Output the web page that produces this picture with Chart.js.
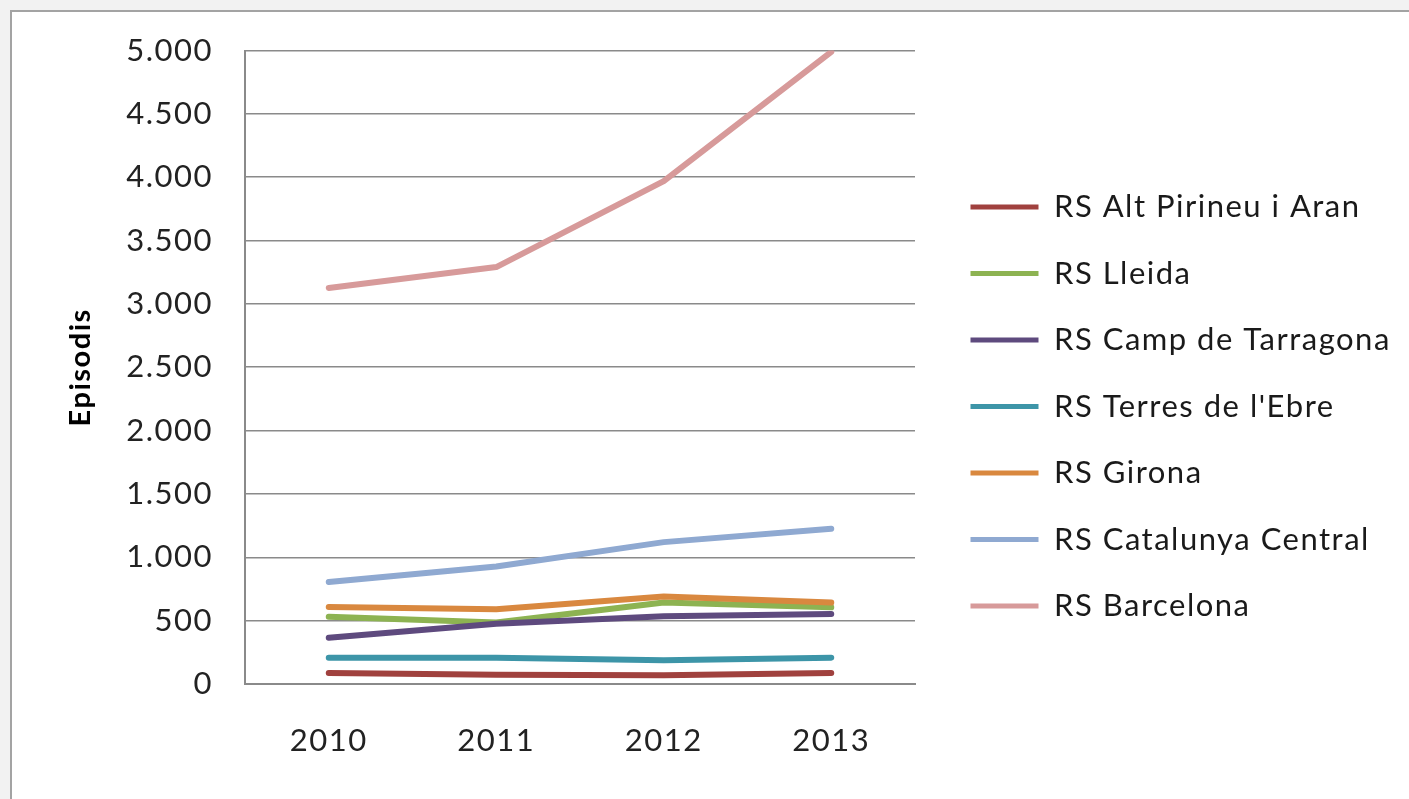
<!DOCTYPE html>
<html>
<head>
<meta charset="utf-8">
<script src="https://cdn.jsdelivr.net/npm/chart.js@4/dist/chart.umd.min.js"></script>
<style>
  html, body { margin: 0; padding: 0; background: #f2f2f2; width: 1409px; height: 799px; overflow: hidden; }
  #frame { position: absolute; left: 10px; top: 10px; width: 1420px; height: 800px; background: #ffffff;
           border-left: 2px solid #a3a3a3; border-top: 2px solid #a3a3a3; }
  #c { position: absolute; left: 0; top: 0; }
</style>
</head>
<body>
<div id="frame"></div>
<canvas id="c" width="1409" height="799"></canvas>
<script>
// ---- data ----
const categories = ['2010', '2011', '2012', '2013'];
const seriesNames = [
  'RS Alt Pirineu i Aran',
  'RS Lleida',
  'RS Camp de Tarragona',
  "RS Terres de l'Ebre",
  'RS Girona',
  'RS Catalunya Central',
  'RS Barcelona'
];
const altPirineu      = [86, 73, 70, 86];
const lleida          = [530, 485, 643, 605];
const campTarragona   = [365, 475, 535, 553];
const terresEbre      = [208, 208, 188, 208];
const girona          = [608, 590, 690, 643];
const catalunyaCentral= [805, 927, 1120, 1225];
const barcelona       = [3126, 3291, 3970, 4990];
const yTickLabels = ['0', '500', '1.000', '1.500', '2.000', '2.500', '3.000', '3.500', '4.000', '4.500', '5.000'];
const yTitle = 'Episodis';

// ---- styles ----
const seriesColors = ['#A0413E', '#8DB352', '#5E4A7E', '#3D95A8', '#D9883F', '#8FA9D1', '#D79A9A'];
const FONT = 'Lato';
const LS = '1.5px';
const legendFont = 31, legendPad = 35.5, legendBox = 68;

const seriesValues = [altPirineu, lleida, campTarragona, terresEbre, girona, catalunyaCentral, barcelona];

// measure legend text to place the legend so the plot ends at x = 915
const mctx = document.createElement('canvas').getContext('2d');
mctx.font = legendFont + 'px ' + FONT;
mctx.letterSpacing = LS;
let maxTW = 0;
seriesNames.forEach(n => { maxTW = Math.max(maxTW, mctx.measureText(n).width); });
const legendW = legendPad + legendBox + legendFont / 2 + maxTW;
const padRight = 1409 - 935 - legendW - 10;

const spacingPlugin = {
  id: 'spacing',
  beforeLayout(chart) { chart.ctx.letterSpacing = LS; },
  beforeDraw(chart) { chart.ctx.letterSpacing = LS; }
};

const datasets = seriesNames.map((name, i) => ({
  label: name,
  data: seriesValues[i],
  borderColor: seriesColors[i],
  backgroundColor: seriesColors[i],
  borderWidth: 6,
  borderCapStyle: 'round',
  borderJoinStyle: 'round',
  pointRadius: 0,
  pointHoverRadius: 0,
  tension: 0,
  fill: false,
  order: seriesNames.length - i
}));

new Chart(document.getElementById('c'), {
  type: 'line',
  data: { labels: categories, datasets },
  plugins: [spacingPlugin],
  options: {
    responsive: false,
    animation: false,
    layout: { padding: { left: 0, top: 49, right: padRight, bottom: 35 } },
    plugins: {
      tooltip: { enabled: false },
      legend: {
        position: 'right',
        maxWidth: 800,
        labels: {
          usePointStyle: true,
          pointStyle: 'line',
          pointStyleWidth: legendBox,
          padding: legendPad,
          color: '#1a1a1a',
          font: { family: FONT, size: legendFont },
          sort: (a, b) => a.datasetIndex - b.datasetIndex,
          generateLabels(chart) {
            const items = Chart.defaults.plugins.legend.labels.generateLabels(chart);
            items.forEach(it => { it.lineWidth = 5; });
            return items;
          }
        }
      }
    },
    scales: {
      x: {
        offset: true,
        grid: { display: false, drawTicks: false },
        border: { display: true, color: '#8a8a8a', width: 2 },
        ticks: { color: '#222', padding: 38, font: { family: FONT, size: 31 } },
        afterFit(s) { s.height = 80; }
      },
      y: {
        min: 0, max: 5000,
        ticks: {
          stepSize: 500,
          color: '#222',
          padding: 32,
          font: { family: FONT, size: 31 },
          callback: (v, i) => yTickLabels[i]
        },
        grid: { color: '#8a8a8a', lineWidth: 1.6, drawTicks: false },
        border: { display: true, color: '#8a8a8a', width: 2 },
        title: {
          display: true,
          text: yTitle,
          color: '#000',
          font: { family: FONT, size: 29, weight: 'bold' },
          padding: { top: 63, bottom: 0 }
        },
        afterFit(s) { s.width = 245; }
      },
      yR: {
        type: 'linear',
        position: 'right',
        display: true,
        min: 0, max: 1,
        grid: { display: false, drawTicks: false },
        border: { display: false },
        ticks: { display: false },
        afterFit(s) { s.width = 20; }
      }
    }
  }
});
</script>
</body>
</html>
